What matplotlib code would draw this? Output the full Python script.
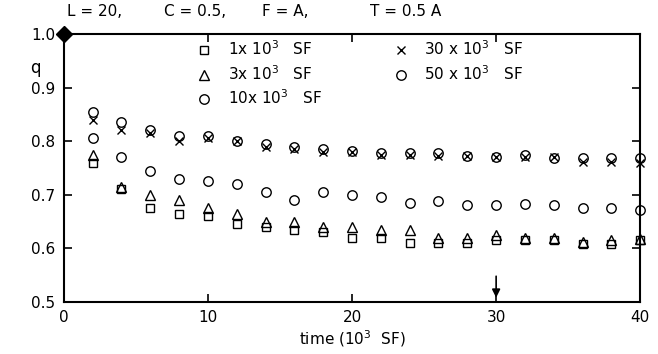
import numpy as np
import matplotlib
matplotlib.use("Agg")
import matplotlib.pyplot as plt

# time axis (10^3 SF)
time = [2, 4, 6, 8, 10, 12, 14, 16, 18, 20, 22, 24, 26, 28, 30, 32, 34, 36, 38, 40]

# q values
q_1k = [0.760, 0.710, 0.675, 0.665, 0.660, 0.645, 0.640, 0.635, 0.630, 0.620,
        0.620, 0.610, 0.610, 0.610, 0.615, 0.615, 0.615, 0.608, 0.608, 0.615]
q_3k = [0.775, 0.715, 0.700, 0.690, 0.675, 0.665, 0.650, 0.650, 0.640, 0.640,
        0.635, 0.635, 0.620, 0.620, 0.625, 0.620, 0.620, 0.612, 0.615, 0.618]
q_10k = [0.805, 0.770, 0.745, 0.730, 0.725, 0.720, 0.705, 0.690, 0.705, 0.700,
         0.695, 0.685, 0.688, 0.680, 0.680, 0.682, 0.680, 0.675, 0.675, 0.672]
q_30k = [0.840, 0.820, 0.815, 0.800, 0.805, 0.800, 0.790, 0.785, 0.780, 0.780,
         0.775, 0.775, 0.772, 0.772, 0.770, 0.770, 0.770, 0.762, 0.762, 0.760]
q_50k = [0.855, 0.835, 0.820, 0.810, 0.810, 0.800, 0.795, 0.790, 0.785, 0.782,
         0.778, 0.778, 0.778, 0.772, 0.770, 0.775, 0.768, 0.768, 0.768, 0.768]

labels = ["1x 10$^3$   SF", "3x 10$^3$   SF", "10x 10$^3$   SF",
          "30 x 10$^3$   SF", "50 x 10$^3$   SF"]

plt.rcParams['font.family'] = ['DejaVu Sans']
plt.rcParams['font.size'] = 10.5

fig = plt.figure(figsize=(6.58, 3.54), dpi=100)
ax = fig.add_axes([0.097, 0.147, 0.876, 0.757])

common = dict(linestyle='none', markerfacecolor='none', markeredgecolor='black',
              markeredgewidth=1.0, clip_on=False)
ax.plot(time, q_1k, marker='s', markersize=6.2, label=labels[0], **common)
ax.plot(time, q_3k, marker='^', markersize=7.2, label=labels[1], **common)
ax.plot(time, q_10k, marker='o', markersize=6.8, label=labels[2], **common)
ax.plot(time, q_30k, marker='x', markersize=6.2, color='black', label=labels[3],
        linestyle='none', markeredgewidth=1.0, clip_on=False)
ax.plot(time, q_50k, marker='o', markersize=6.8, label=labels[4], **common)

# start point
ax.plot([0], [1.0], marker='D', markersize=8, color='black', clip_on=False, zorder=5)

# arrow at t = 30
ax.annotate('', xy=(30, 0.508), xytext=(30, 0.548),
            arrowprops=dict(arrowstyle='-|>', color='black', lw=1.2,
                            mutation_scale=12, shrinkA=0, shrinkB=0))

ax.set_xlim(0, 40)
ax.set_ylim(0.5, 1.0)
ax.set_xticks([0, 10, 20, 30, 40])
ax.set_yticks([0.5, 0.6, 0.7, 0.8, 0.9, 1.0])
ax.set_yticklabels(['0.5', '0.6', '0.7', '0.8', '0.9', '1.0'])
ax.tick_params(direction='in', length=6, width=1.2, top=True, right=True,
               labelsize=11, pad=6)
for s in ax.spines.values():
    s.set_linewidth(1.5)

ax.set_xlabel('time (10$^3$  SF)', fontsize=11, labelpad=2)
ax.text(-0.05, 0.855, 'q', transform=ax.transAxes, fontsize=12, ha='center')

# header
fig.text(0.102, 0.955, 'L = 20,', fontsize=11)
fig.text(0.250, 0.955, 'C = 0.5,', fontsize=11)
fig.text(0.398, 0.955, 'F = A,', fontsize=11)
fig.text(0.562, 0.955, 'T = 0.5 A', fontsize=11)

ax.legend(ncol=2, loc='upper left', bbox_to_anchor=(0.20, 1.03), frameon=False,
          fontsize=11, handletextpad=0.8, columnspacing=4.4, labelspacing=0.38,
          handlelength=1.5)

fig.savefig('out.png', dpi=100)
